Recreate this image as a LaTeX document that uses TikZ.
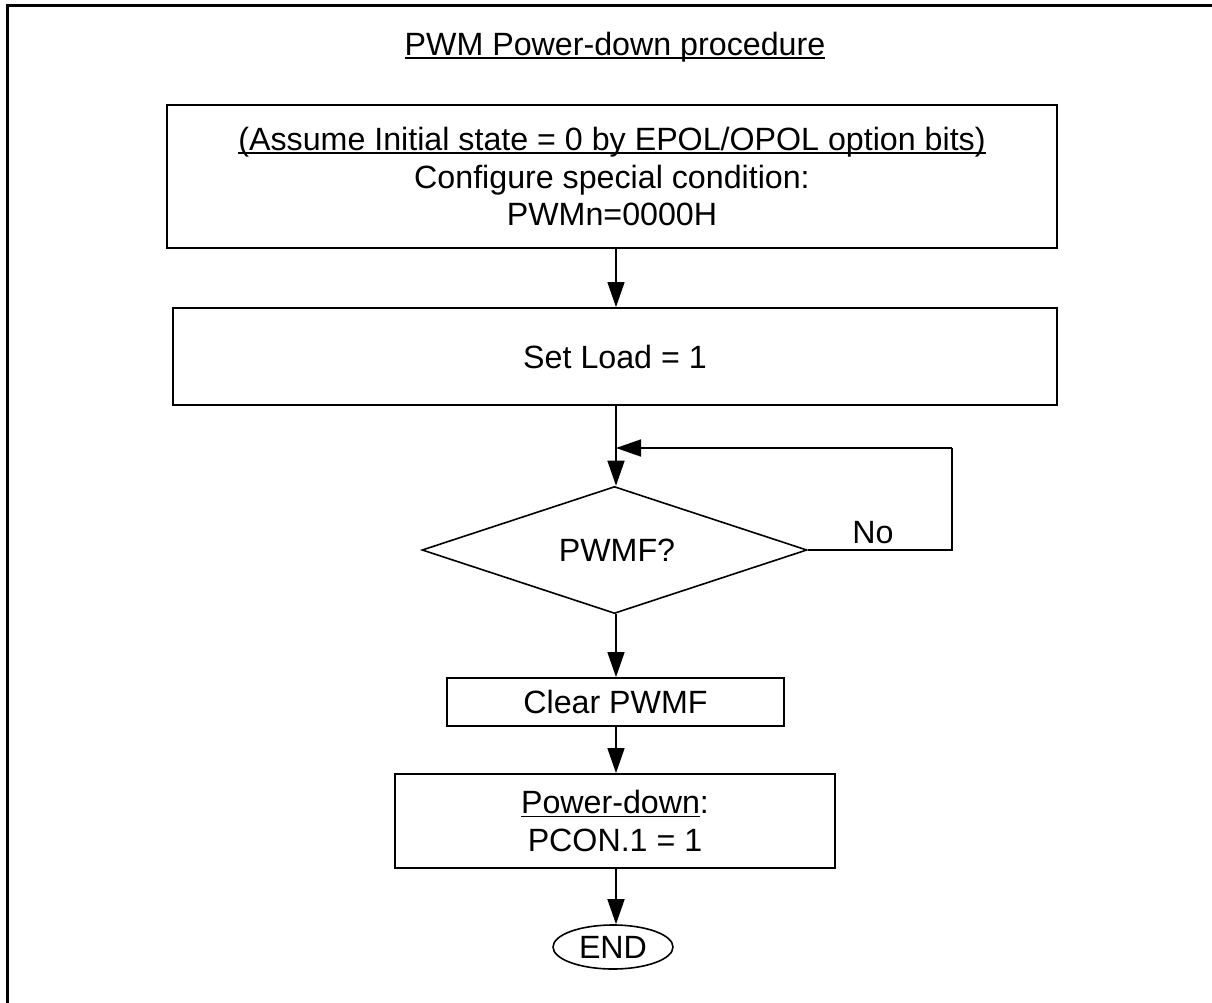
\documentclass[tikz,border=0pt]{standalone}
\usepackage{fontspec}
\setmainfont{Liberation Sans}
\usetikzlibrary{shapes.geometric,arrows.meta}
\newcommand\myul[1]{\setbox0=\hbox{#1}\rlap{\rule[-3.5pt]{\wd0}{1.6pt}}\box0}
\tikzset{
  procbox/.style={draw, line width=1.8pt, rectangle, inner sep=0pt, align=center},
  decbox/.style={draw, line width=1.6pt, diamond, inner sep=0pt, aspect=3.03, minimum width=385pt, minimum height=127pt},
  endbox/.style={draw, line width=1.6pt, ellipse, inner sep=0pt, minimum width=120pt, minimum height=44pt},
  flow/.style={line width=1.5pt, -{Triangle[length=25pt,width=17pt]}},
  plainline/.style={line width=1.5pt},
  frameline/.style={line width=3pt},
}
\begin{document}
\begin{tikzpicture}[x=1pt,y=-1pt, font=\fontsize{32.2}{37.5}\selectfont]
\useasboundingbox (0,0) rectangle (1212,1003);
\clip (0,0) rectangle (1212,1003);
\draw[frameline] (7,6) rectangle (1240,1040);
\node (title) at (615,47) {\myul{PWM Power-down procedure}};
\node[procbox, minimum width=890pt, minimum height=143pt] (b1) at (612,176.5)
  {\myul{(Assume Initial state = 0 by EPOL/OPOL option bits)}\\Configure special condition:\\PWMn=0000H};
\node[procbox, minimum width=884pt, minimum height=97pt] (b2) at (615,356.5) {Set Load = 1};
\node[decbox] (d) at (614.5,550) {};
\node (dlabel) at (617,550) {PWMF?};
\node[procbox, minimum width=337pt, minimum height=48pt] (b3) at (615.5,702) {Clear PWMF};
\node[procbox, minimum width=440pt, minimum height=94pt] (b4) at (615,821) {\myul{Power-down}:\\PCON.1 = 1};
\node[endbox] (e) at (613,947) {END};
\node (no) at (873,533) {No};
\coordinate (r1) at (952,550);
\coordinate (r2) at (952,448);
\coordinate (m) at (616,448);
\draw[flow] (b1.south -| 616,0) -- (b2.north -| 616,0);
\draw[flow] (b2.south -| 616,0) -- (d.north -| 616,0);
\draw[plainline] (d.east) -- (r1) -- (r2);
\draw[flow] (r2) -- (m);
\draw[flow] (d.south -| 616,0) -- (b3.north -| 616,0);
\draw[flow] (b3.south -| 616,0) -- (b4.north -| 616,0);
\draw[flow] (b4.south -| 616,0) -- (e.north -| 616,0);
\end{tikzpicture}
\end{document}
